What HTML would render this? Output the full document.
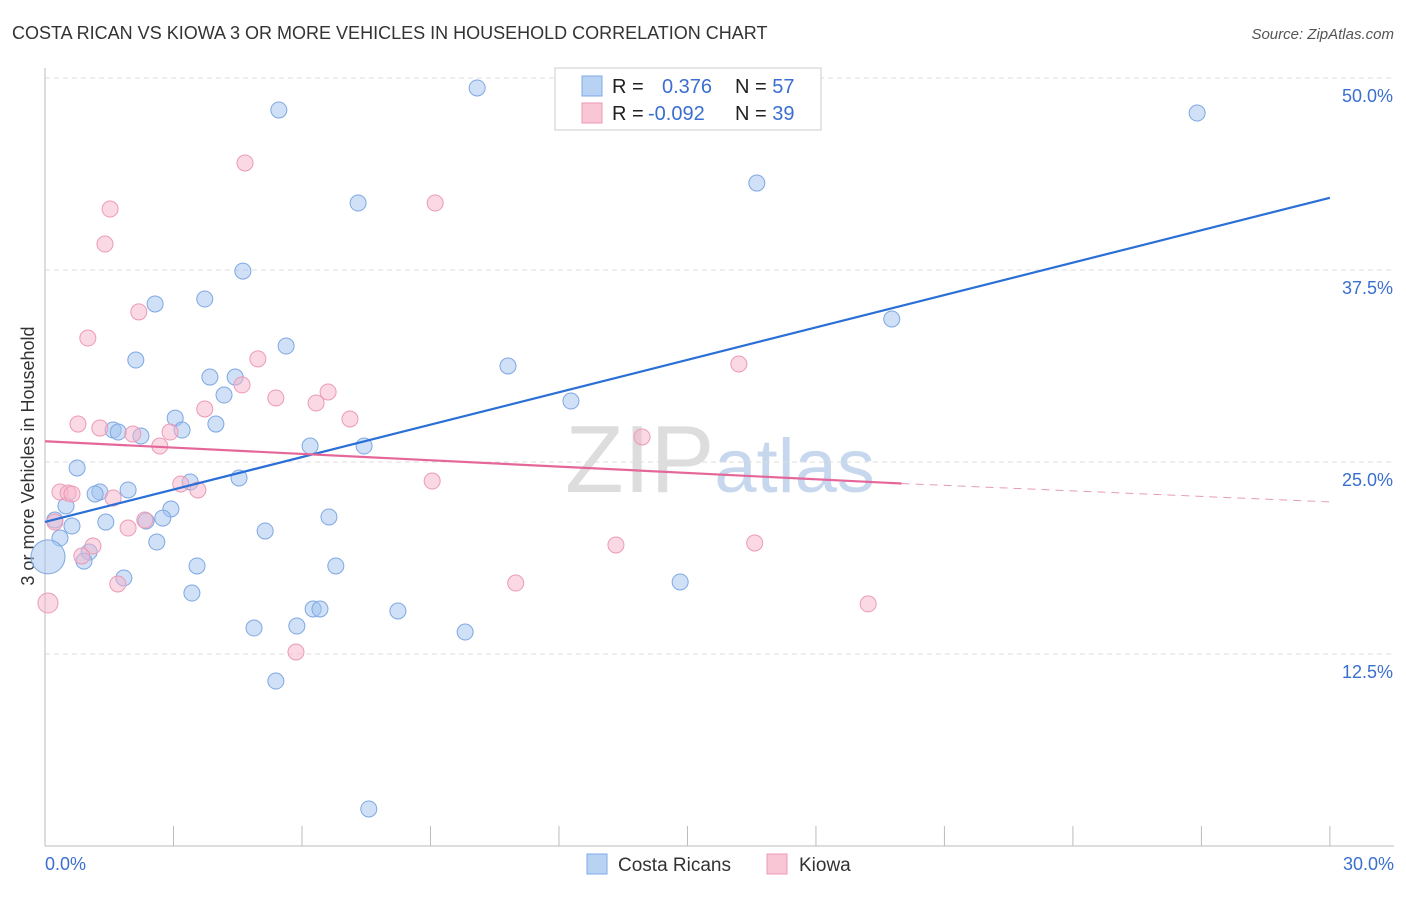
<!DOCTYPE html>
<html><head><meta charset="utf-8"><style>
body{margin:0;background:#fff;font-family:"Liberation Sans",sans-serif;}
svg text{font-family:"Liberation Sans",sans-serif;}
</style></head><body>
<svg id="chart" width="1406" height="892">
<text x="12" y="39" font-size="18" fill="#333">COSTA RICAN VS KIOWA 3 OR MORE VEHICLES IN HOUSEHOLD CORRELATION CHART</text>
<text x="1394" y="39" font-size="15" fill="#555" font-style="italic" text-anchor="end">Source: ZipAtlas.com</text>
<text x="34" y="456" font-size="18" fill="#333" text-anchor="middle" transform="rotate(-90 34 456)">3 or more Vehicles in Household</text>
<text x="720" y="492" font-size="96" fill="#ddd" text-anchor="middle" font-family="Liberation Serif">ZIP<tspan fill="#c7d8ee" font-family="Liberation Sans" font-size="76">atlas</tspan></text>
<g id="grid"></g><g id="marks"></g><g id="trend"></g>
<g>
<rect x="555" y="68" width="266" height="62" fill="#fff" stroke="#ccc"/>
<rect x="582" y="76" width="20" height="20" fill="#b8d2f4" stroke="#7fa9e4"/>
<text x="612" y="93" font-size="20" fill="#222">R = <tspan x="662" fill="#3a6fd0">0.376</tspan><tspan x="735" fill="#222">N = </tspan><tspan fill="#3a6fd0">57</tspan></text>
<rect x="582" y="103" width="20" height="20" fill="#f8c6d5" stroke="#eb9ab4"/>
<text x="612" y="120" font-size="20" fill="#222">R = <tspan x="648" fill="#3a6fd0">-0.092</tspan><tspan x="735" fill="#222">N = </tspan><tspan fill="#3a6fd0">39</tspan></text>
</g>
<g>
<rect x="587" y="854" width="20" height="20" fill="#b8d2f4" stroke="#7fa9e4"/>
<text x="618" y="871" font-size="19" fill="#333">Costa Ricans</text>
<rect x="767" y="854" width="20" height="20" fill="#f8c6d5" stroke="#eb9ab4"/>
<text x="799" y="871" font-size="19" fill="#333">Kiowa</text>
</g>
</svg>
<script>
const yTicks=[12.5,25,37.5,50];
const yTickLabels=["12.5%","25.0%","37.5%","50.0%"];
const xTickLabels=["0.0%","30.0%"];
const blueX=[5.46,10.09,26.9,16.62,7.31,4.62,3.73,2.57,19.77,5.63,2.12,10.81,3.85,4.44,4.18,12.28,3.04,3.99,1.59,1.71,2.24,3.2,6.19,7.45,0.75,4.53,3.39,1.94,1.28,1.17,0.49,2.94,0.23,0.63,1.42,2.36,2.75,6.63,5.14,0.35,2.61,1.03,0.91,3.55,6.79,1.84,14.83,3.43,6.26,6.42,8.24,4.88,5.88,9.81,5.39,7.56,0.07];
const blueY=[47.92,49.35,47.72,43.16,41.86,37.43,35.61,35.29,34.31,32.55,31.64,31.25,30.53,30.53,29.36,28.97,27.86,27.47,27.08,26.95,26.69,27.08,26.04,26.04,24.61,23.96,23.7,23.18,23.05,22.92,22.14,21.94,21.22,20.83,21.09,21.16,21.35,21.42,20.51,20.05,19.79,19.14,18.55,18.23,18.23,17.45,17.19,16.47,15.43,15.43,15.3,14.19,14.32,13.93,10.74,2.41,18.82];
const pinkX=[4.67,1.52,9.11,1.4,2.19,1.0,4.97,16.2,4.6,6.61,5.39,6.33,3.73,7.12,0.77,1.28,2.05,2.92,2.68,13.94,9.04,3.17,3.57,0.35,0.54,0.63,1.59,2.33,0.23,1.94,1.12,0.86,13.33,16.57,1.7,10.99,0.07,19.22,5.86];
const pinkY=[44.47,41.47,41.86,39.19,34.77,33.07,31.71,31.38,30.02,29.56,29.17,28.84,28.45,27.8,27.47,27.21,26.82,26.95,26.04,26.63,23.76,23.57,23.18,23.05,22.98,22.92,22.66,21.22,21.09,20.7,19.53,18.88,19.6,19.73,17.06,17.12,15.82,15.76,12.63];
const blueTrend=[0,21.1,30,42.2];
const pinkTrend=[0,26.35,20,23.6,30,22.4];
const sx=v=>45+v*42.83, sy=v=>846-v*15.36;
const NS="http://www.w3.org/2000/svg";
function mk(t,a,p){const e=document.createElementNS(NS,t);for(const k in a)e.setAttribute(k,a[k]);p.appendChild(e);return e;}
const grid=document.getElementById('grid');
yTicks.forEach((t,i)=>{
 const gl=mk('line',{x1:45,x2:1394,y1:sy(t),y2:sy(t),stroke:'#ddd','stroke-dasharray':'5,4'},grid);
 
 
 const tx=mk('text',{x:1393,y:sy(t)+24,'font-size':18,fill:'#3a6fd0','text-anchor':'end'},grid);
 tx.textContent=yTickLabels[i];
 
 
});
mk('line',{x1:45,x2:45,y1:68,y2:846,stroke:'#bbb'},grid);
mk('line',{x1:45,x2:1394,y1:846,y2:846,stroke:'#bbb'},grid);
for(let i=0;i<=10;i++){mk('line',{x1:sx(i*3),x2:sx(i*3),y1:826,y2:846,stroke:'#bbb'},grid);}
[[0,'start',45],[1,'end',1394]].forEach(([i,a,x])=>{
 const t=mk('text',{x:x,y:870,'font-size':18,fill:'#3a6fd0','text-anchor':a},grid);t.textContent=xTickLabels[i];
 
 
});
const marks=document.getElementById('marks');
blueX.forEach((v,i)=>{
 const c=mk('circle',{cx:sx(v),cy:sy(blueY[i]),r:i==56?17:8,fill:'rgba(160,194,240,0.5)',stroke:'#7ea8e2','stroke-width':1},marks);
 
 
});
pinkX.forEach((v,i)=>{
 const c=mk('circle',{cx:sx(v),cy:sy(pinkY[i]),r:i==36?10:8,fill:'rgba(246,180,202,0.5)',stroke:'#ec9ab5','stroke-width':1},marks);
 
 
});
const tr=document.getElementById('trend');
const bl=mk('line',{x1:sx(blueTrend[0]),y1:sy(blueTrend[1]),x2:sx(blueTrend[2]),y2:sy(blueTrend[3]),stroke:'#2a6fd6','stroke-width':2.2},tr);


const pl=mk('line',{x1:sx(pinkTrend[0]),y1:sy(pinkTrend[1]),x2:sx(pinkTrend[2]),y2:sy(pinkTrend[3]),stroke:'#e5679a','stroke-width':2.2},tr);


const pd=mk('line',{x1:sx(pinkTrend[2]),y1:sy(pinkTrend[3]),x2:sx(pinkTrend[4]),y2:sy(pinkTrend[5]),stroke:'#e89ab8','stroke-width':1,'stroke-dasharray':'8,6'},tr);


</script>
</body></html>
